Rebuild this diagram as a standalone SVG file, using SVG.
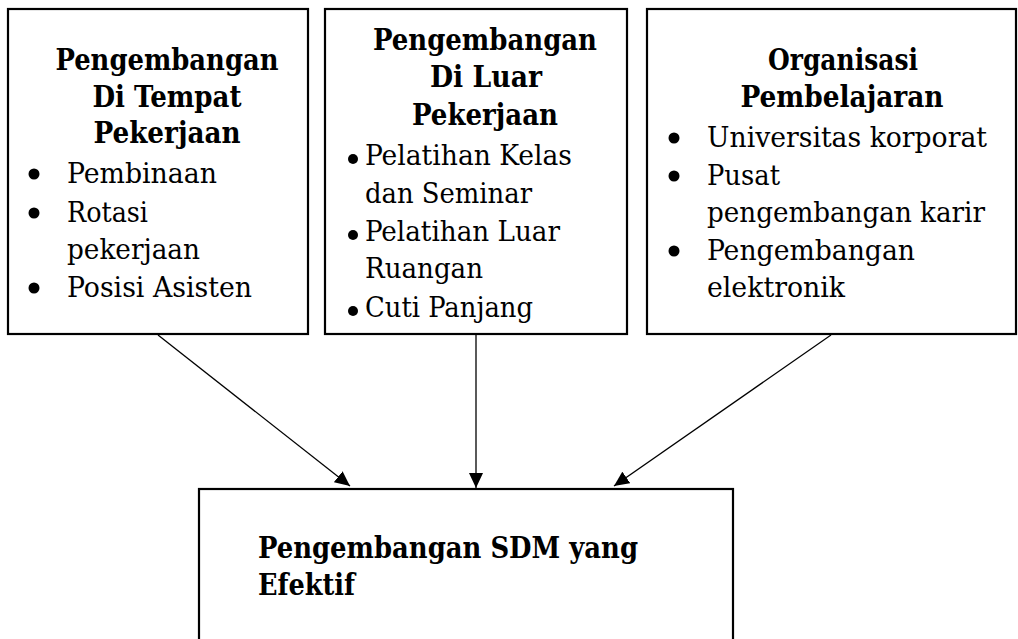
<svg xmlns="http://www.w3.org/2000/svg" width="1018" height="639" viewBox="0 0 1018 639">
<style>
.box{fill:#fff;stroke:#000;stroke-width:2.2}
.t{font-family:"DejaVu Serif","Liberation Serif",serif;font-size:28px;fill:#000;font-stretch:semi-condensed}
.b{font-weight:bold;font-size:29px}
.c{text-anchor:middle}
.dot{fill:#000}
.con{stroke:#000;stroke-width:1.3;fill:none;marker-end:url(#ah)}
</style>
<defs>
<marker id="ah" markerUnits="userSpaceOnUse" markerWidth="15" markerHeight="14" refX="15" refY="7" orient="auto" viewBox="0 0 15 14">
<path d="M0,0 L15,7 L0,14 z" fill="#000"/>
</marker>
<clipPath id="clip2"><rect x="325" y="9" width="302" height="314"/></clipPath>
</defs>
<rect width="1018" height="639" fill="#fff"/>
<g id="node-tempat">
<rect class="box" x="8" y="9" width="300" height="325"/>
<text class="t b c" x="167" y="70" textLength="223" lengthAdjust="spacingAndGlyphs">Pengembangan</text>
<text class="t b c" x="167" y="107" textLength="149" lengthAdjust="spacingAndGlyphs">Di Tempat</text>
<text class="t b c" x="167" y="143" textLength="147" lengthAdjust="spacingAndGlyphs">Pekerjaan</text>
<circle class="dot" cx="34" cy="174" r="5.5"/>
<text class="t" x="67" y="183" textLength="150" lengthAdjust="spacingAndGlyphs">Pembinaan</text>
<circle class="dot" cx="34" cy="213" r="5.5"/>
<text class="t" x="67" y="222" textLength="81" lengthAdjust="spacingAndGlyphs">Rotasi</text>
<text class="t" x="67" y="259" textLength="133" lengthAdjust="spacingAndGlyphs">pekerjaan</text>
<circle class="dot" cx="34" cy="288" r="5.5"/>
<text class="t" x="67" y="297" textLength="185" lengthAdjust="spacingAndGlyphs">Posisi Asisten</text>
</g>
<g id="node-luar">
<rect class="box" x="325" y="9" width="302" height="325"/>
<g clip-path="url(#clip2)">
<text class="t b c" x="485" y="50" textLength="224" lengthAdjust="spacingAndGlyphs">Pengembangan</text>
<text class="t b c" x="486" y="87" textLength="112" lengthAdjust="spacingAndGlyphs">Di Luar</text>
<text class="t b c" x="485" y="125" textLength="146" lengthAdjust="spacingAndGlyphs">Pekerjaan</text>
<circle class="dot" cx="353" cy="159" r="5"/>
<text class="t" x="365" y="165" textLength="207" lengthAdjust="spacingAndGlyphs">Pelatihan Kelas</text>
<text class="t" x="365" y="203" textLength="167" lengthAdjust="spacingAndGlyphs">dan Seminar</text>
<circle class="dot" cx="353" cy="235" r="5"/>
<text class="t" x="365" y="241" textLength="195" lengthAdjust="spacingAndGlyphs">Pelatihan Luar</text>
<text class="t" x="365" y="278" textLength="118" lengthAdjust="spacingAndGlyphs">Ruangan</text>
<circle class="dot" cx="353" cy="311" r="5"/>
<text class="t" x="365" y="317" textLength="168" lengthAdjust="spacingAndGlyphs">Cuti Panjang</text>
</g>
</g>
<g id="node-organisasi">
<rect class="box" x="647" y="9" width="369" height="325"/>
<text class="t b c" x="843" y="70" textLength="150" lengthAdjust="spacingAndGlyphs">Organisasi</text>
<text class="t b c" x="842" y="107" textLength="203" lengthAdjust="spacingAndGlyphs">Pembelajaran</text>
<circle class="dot" cx="674" cy="138" r="5.5"/>
<text class="t" x="707" y="147" textLength="280" lengthAdjust="spacingAndGlyphs">Universitas korporat</text>
<circle class="dot" cx="674" cy="176" r="5.5"/>
<text class="t" x="707" y="185" textLength="73" lengthAdjust="spacingAndGlyphs">Pusat</text>
<text class="t" x="707" y="222" textLength="278" lengthAdjust="spacingAndGlyphs">pengembangan karir</text>
<circle class="dot" cx="674" cy="251" r="5.5"/>
<text class="t" x="707" y="260" textLength="208" lengthAdjust="spacingAndGlyphs">Pengembangan</text>
<text class="t" x="707" y="297" textLength="138" lengthAdjust="spacingAndGlyphs">elektronik</text>
</g>
<g id="node-sdm">
<rect class="box" x="199" y="489" width="534" height="170"/>
<text class="t b" x="258" y="558" textLength="380" lengthAdjust="spacingAndGlyphs">Pengembangan SDM yang</text>
<text class="t b" x="258" y="595" textLength="97" lengthAdjust="spacingAndGlyphs">Efektif</text>
</g>
<g id="connectors">
<line class="con" x1="158" y1="335" x2="350" y2="486"/>
<line class="con" x1="476" y1="335" x2="476" y2="488"/>
<line class="con" x1="831" y1="335" x2="614" y2="486"/>
</g>
</svg>
